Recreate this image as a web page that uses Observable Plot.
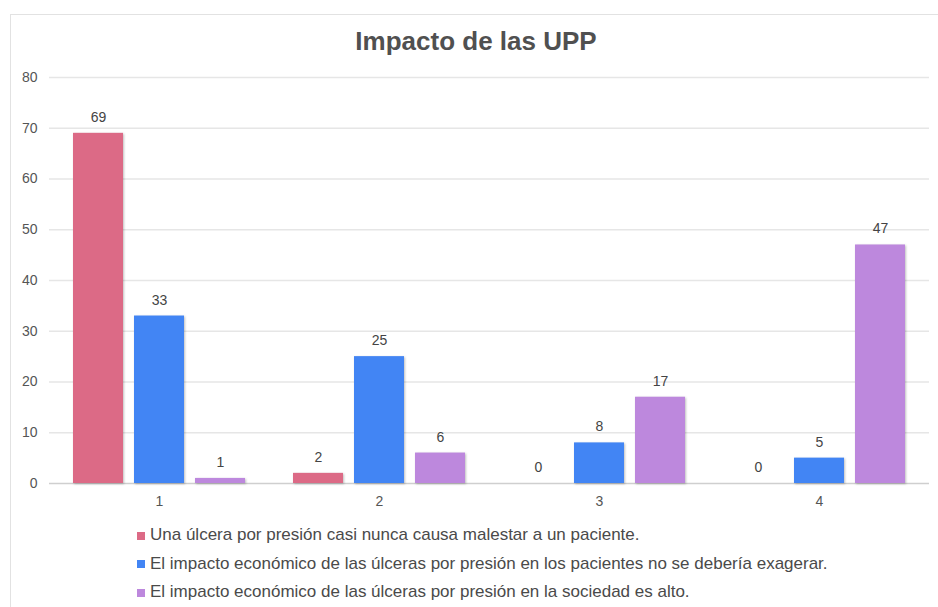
<!DOCTYPE html>
<html>
<head>
<meta charset="utf-8">
<script src="https://cdn.jsdelivr.net/npm/d3@7"></script>
<script src="https://cdn.jsdelivr.net/npm/@observablehq/plot@0.6"></script>
<style>
  html, body { margin: 0; padding: 0; background: #fff; width: 938px; height: 607px; overflow: hidden; }
  body { font-family: "Liberation Sans", Arial, sans-serif; position: relative; }
  #frame { position: absolute; left: 10px; top: 14px; width: 940px; height: 610px; border: 1px solid #e2e2e2; box-sizing: border-box; }
  #title { position: absolute; left: 7px; width: 938px; top: 26px; text-align: center; font-size: 26px; line-height: 30px; font-weight: bold; color: #505050; }
  #chart { position: absolute; left: 0; top: 60px; }
  #legend { position: absolute; left: 137px; top: 521px; font-size: 17px; color: #4a4a4a; }
  .item { height: 28.5px; display: flex; align-items: center; }
  .sw { width: 8px; height: 8px; margin-right: 5px; margin-top: 1px; }
</style>
</head>
<body>
<div id="frame"></div>
<div id="title">Impacto de las UPP</div>
<div id="chart"></div>
<div id="legend"></div>
<script>
const groups = ["1", "2", "3", "4"];
const series = [
  "Una úlcera por presión casi nunca causa malestar a un paciente.",
  "El impacto económico de las úlceras por presión en los pacientes no se debería exagerar.",
  "El impacto económico de las úlceras por presión en la sociedad es alto."
];
const values1 = [69, 2, 0, 0];
const values2 = [33, 25, 8, 5];
const values3 = [1, 6, 17, 47];
const colors = ["#dc6a86", "#4285f4", "#bd88dd"];
const yTicks = [0, 10, 20, 30, 40, 50, 60, 70, 80];

const allValues = [values1, values2, values3];
const rows = [];
groups.forEach((g, gi) => {
  series.forEach((s, si) => rows.push({group: g, series: s, value: allValues[si][gi]}));
});

const chart = Plot.plot({
  width: 938,
  height: 460,
  marginTop: 17,
  marginBottom: 37,
  marginLeft: 48,
  marginRight: 8,
  style: {fontSize: "14px", fontFamily: "'Liberation Sans', Arial, sans-serif", color: "#555", background: "transparent"},
  fx: {domain: groups, padding: 0, label: null, tickSize: 0, tickPadding: 13, axis: "bottom"},
  x: {domain: series, axis: null, paddingInner: 0.18, paddingOuter: 0.38},
  y: {domain: [0, 80], ticks: yTicks, label: null, tickSize: 0, tickPadding: 12},
  color: {domain: series, range: colors},
  marks: [
    Plot.ruleY(yTicks.slice(1), {stroke: "#e6e6e6", strokeWidth: 1.5}),
    Plot.ruleY([0], {stroke: "#cfcfcf", strokeWidth: 1.5}),
    Plot.barY(rows, {fx: "group", x: "series", y: "value", fill: "series"}),
    Plot.text(rows, {fx: "group", x: "series", y: "value", text: d => String(d.value), dy: -16, fill: "#444", fontSize: 14})
  ]
});
document.getElementById("chart").appendChild(chart);
d3.select(chart).selectAll('g[aria-label="bar"] rect').style("filter", "drop-shadow(1px 1px 1px rgba(0,0,0,0.25))");

const legend = document.getElementById("legend");
series.forEach((s, i) => {
  const item = document.createElement("div");
  item.className = "item";
  const sw = document.createElement("div");
  sw.className = "sw";
  sw.style.background = colors[i];
  const t = document.createElement("span");
  t.textContent = s;
  item.appendChild(sw);
  item.appendChild(t);
  legend.appendChild(item);
});
</script>
</body>
</html>
